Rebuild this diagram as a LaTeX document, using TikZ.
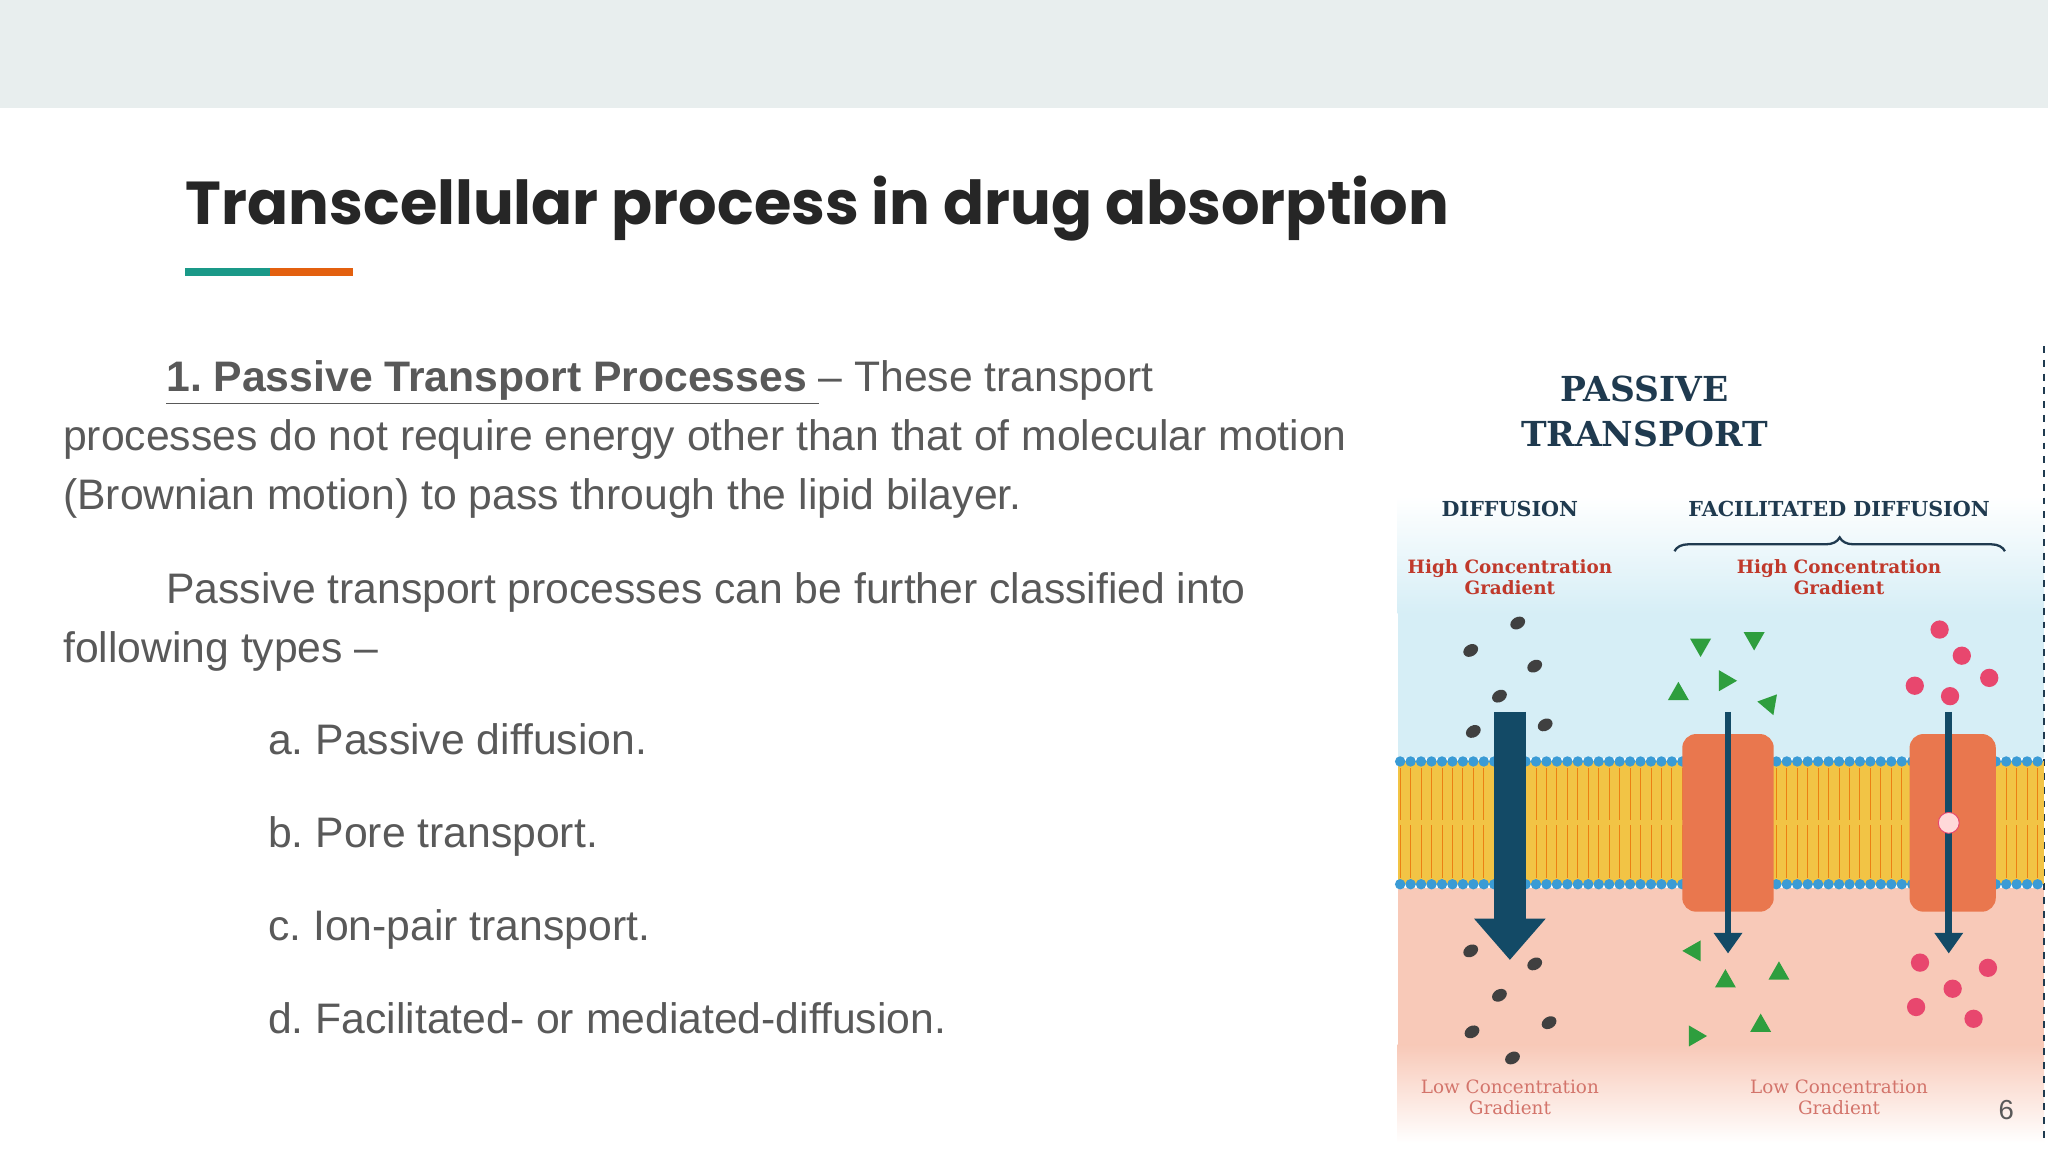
\documentclass[tikz,border=0pt]{standalone}
\usepackage{fontspec}
\setmainfont{Liberation Sans}
\newfontfamily\titlefont{Poppins}
\newfontfamily\slabfont{DejaVu Serif}
\usetikzlibrary{decorations.pathreplacing,arrows.meta}
\frenchspacing
\definecolor{bodygray}{HTML}{595959}
\definecolor{bandgray}{HTML}{E8EEEE}
\definecolor{tealbar}{HTML}{1A9988}
\definecolor{orangebar}{HTML}{E3600F}
\definecolor{navy}{HTML}{1F3A4F}
\definecolor{slabred}{HTML}{C0392B}
\definecolor{skyblue}{HTML}{D6EEF6}
\definecolor{pinkbg}{HTML}{F8C9B8}
\definecolor{lipid}{HTML}{F2C445}
\definecolor{headblue}{HTML}{3A9BD5}
\definecolor{protein}{HTML}{E9774E}
\definecolor{arrowblue}{HTML}{134A66}
\definecolor{greenmol}{HTML}{2E9E3E}
\definecolor{pinkmol}{HTML}{E8476E}
\tikzset{
  body/.style={anchor=base west, text=bodygray, font=\fontsize{18.6}{22}\selectfont, inner sep=0pt},
  fig head/.style={text=navy, font=\slabfont\bfseries\fontsize{9}{10}\selectfont, align=center},
  fig grad/.style={text=slabred, font=\slabfont\bfseries\fontsize{8}{9}\selectfont, align=center},
  fig low/.style={text=slabred!70, font=\slabfont\fontsize{8}{9}\selectfont, align=center},
  channel/.style={fill=protein, draw=none, rounded corners=6pt},
}
\begin{document}
\begin{tikzpicture}[x=0.02cm,y=-0.02cm]
\useasboundingbox (0,0) rectangle (1568,882);
%band and title
\fill[white] (0,0) rectangle (1568,882);
\fill[bandgray] (0,0) rectangle (1568,83);
\node[anchor=base west, inner sep=0pt, font=\titlefont\bfseries\fontsize{26.4}{30}\selectfont, text=black!85] (title) at (142,172) {Transcellular process in drug absorption};
\fill[tealbar] (142,205) rectangle (207,211);
\fill[orangebar] (207,205) rectangle (270,211);

%text
\node[body] (p1) at (127,300) {\textbf{\underline{1. Passive Transport Processes\ }}– These transport};
\node[body] (p2) at (48,345) {processes do not require energy other than that of molecular motion};
\node[body] (p3) at (48,390) {(Brownian motion) to pass through the lipid bilayer.};
\node[body] (q1) at (127,462) {Passive transport processes can be further classified into};
\node[body] (q2) at (48,507) {following types –};
\node[body] (ia) at (205,578) {a. Passive diffusion.};
\node[body] (ib) at (205,649) {b. Pore transport.};
\node[body] (ic) at (205,720) {c. Ion-pair transport.};
\node[body] (id) at (205,791) {d. Facilitated- or mediated-diffusion.};

%figure background
\fill[white] (1062,265) rectangle (1565,875);
\shade[top color=white, bottom color=skyblue] (1070,380) rectangle (1565,470);
\fill[skyblue] (1070,470) rectangle (1565,580);
\fill[pinkbg] (1070,680) rectangle (1565,800);
\shade[top color=pinkbg, bottom color=white] (1070,800) rectangle (1565,875);
\draw[navy, dashed, line width=1.2pt] (1565,265) -- (1565,875);

%membrane
\fill[lipid] (1070,583) rectangle (1565,677);
\foreach \x in {1072,1080,...,1564}{
  \draw[orange!70!brown, line width=0.4pt] (\x,588) -- (\x,628) (\x,632) -- (\x,672);
  \fill[headblue] (\x,583) circle (4);
  \fill[headblue] (\x,677) circle (4);
}
\fill[channel] (1288,562) rectangle (1358,698);
\fill[channel] (1462,562) rectangle (1528,698);
\fill[lipid!60!protein] (1321,570) rectangle (1325,690);

%labels
\node[fig head, font=\slabfont\bfseries\fontsize{15}{20}\selectfont] (ttl) at (1259,315) {PASSIVE\\TRANSPORT};
\node[fig head] (dif) at (1156,390) {DIFFUSION};
\node[fig head] (fac) at (1408,390) {FACILITATED DIFFUSION};
\draw[navy, line width=1pt, decorate, decoration={brace, amplitude=6pt, mirror}] (1535,422) -- (1282,422);
\node[fig grad] (hi1) at (1156,442) {High Concentration\\Gradient};
\node[fig grad] (hi2) at (1408,442) {High Concentration\\Gradient};
\node[fig low] (lo1) at (1156,840) {Low Concentration\\Gradient};
\node[fig low] (lo2) at (1408,840) {Low Concentration\\Gradient};
\node[text=bodygray, font=\fontsize{12}{14}\selectfont] (page) at (1536,850) {6};

%arrows
\coordinate (a1) at (1156,545); \coordinate (b1) at (1156,735);
\coordinate (a2) at (1323,545); \coordinate (b2) at (1323,730);
\coordinate (a3) at (1492,545); \coordinate (b3) at (1492,730);
\draw[arrowblue, line width=14pt, -{Triangle[length=18pt,width=30pt]}] (a1) -- (b1);
\draw[arrowblue, line width=3pt, -{Triangle[length=9pt,width=12pt]}] (a2) -- (b2);
\draw[arrowblue, line width=3pt, -{Triangle[length=9pt,width=12pt]}] (a3) -- (b3);
\draw[pinkmol, fill=pink!60] (1492,630) circle (8);

%molecules
\foreach \x/\y in {1162/477,1126/498,1175/510,1148/533,1128/560,1183/555,1126/728,1175/738,1148/762,1127/790,1186/783,1158/810}
  \fill[black!75, rotate around={30:(\x,\y)}] (\x,\y) ellipse (6 and 4.5);
\foreach \x/\y/\r in {1302/495/180,1343/490/180,1285/530/0,1320/520/30,1355/540/200,1296/728/90,1321/750/0,1362/744/0,1297/792/30,1348/784/0}
  \fill[greenmol, rotate around={\r:(\x,\y)}] (\x,\y-8) -- (\x+8,\y+6) -- (\x-8,\y+6) -- cycle;
\foreach \x/\y in {1485/482,1502/502,1523/519,1466/525,1493/533,1470/737,1495/757,1522/741,1467/771,1511/780}
  \fill[pinkmol] (\x,\y) circle (7);
\end{tikzpicture}
\end{document}
